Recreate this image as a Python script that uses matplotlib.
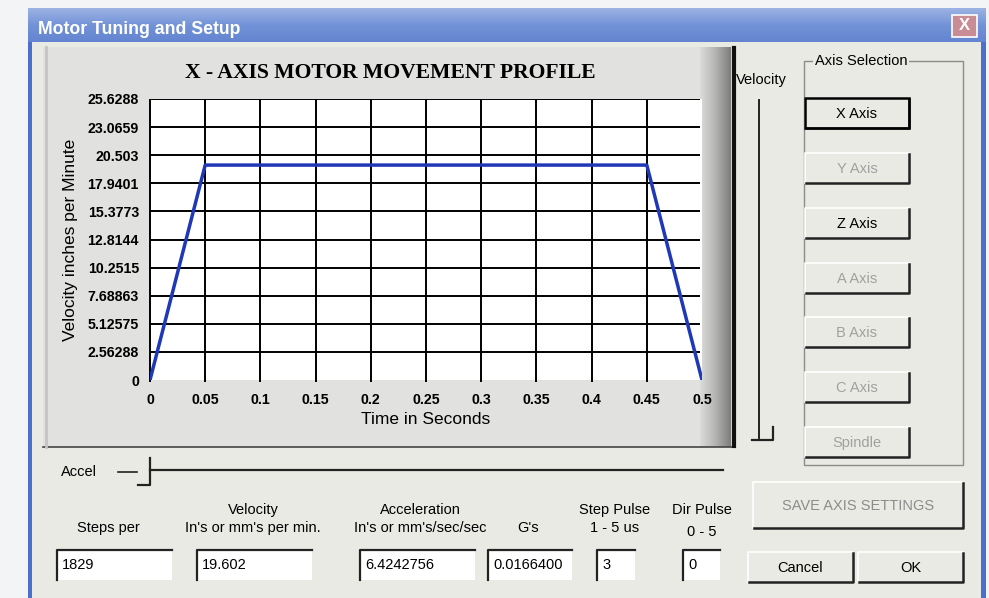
import numpy as np
import matplotlib.pyplot as plt
from matplotlib import font_manager
from matplotlib.patches import Rectangle
from matplotlib.lines import Line2D
from matplotlib.colors import LinearSegmentedColormap

W, H = 989, 598

# velocity profile (time in s, velocity in in/min)
time_s = [0, 0.05, 0.45, 0.5]
velocity = [0, 19.602, 19.602, 0]

x_ticks = [0, 0.05, 0.1, 0.15, 0.2, 0.25, 0.3, 0.35, 0.4, 0.45, 0.5]
x_labels = ['0', '0.05', '0.1', '0.15', '0.2', '0.25', '0.3', '0.35', '0.4', '0.45', '0.5']
y_labels = ['0', '2.56288', '5.12575', '7.68863', '10.2515', '12.8144',
            '15.3773', '17.9401', '20.503', '23.0659', '25.6288']

axis_buttons = ['X Axis', 'Y Axis', 'Z Axis', 'A Axis', 'B Axis', 'C Axis', 'Spindle']
axis_enabled = [True, False, True, False, False, False, False]

field_top = ['', 'Velocity', 'Acceleration', '', 'Step Pulse', 'Dir Pulse']
field_bottom = ['Steps per', "In's or mm's per min.", "In's or mm's/sec/sec", "G's", '1 - 5 us', '0 - 5']
field_values = ['1829', '19.602', '6.4242756', '0.0166400', '3', '0']

installed = {f.name for f in font_manager.fontManager.ttflist}
UI = 'Liberation Sans Narrow' if 'Liberation Sans Narrow' in installed else 'Liberation Sans'
UI_SIZE = 12 if UI == 'Liberation Sans Narrow' else 10.5
plt.rcParams['font.family'] = ['Liberation Sans', 'DejaVu Sans']

BODY = '#eaeae4'
DARK = '#222222'

fig = plt.figure(figsize=(W / 100, H / 100), dpi=100)
fig.patch.set_facecolor('#f3f4f6')


def fx(x):
    return x / W


def fy(y):
    return 1 - y / H


def rect(x0, y0, x1, y1, z=0.5, **kw):
    fig.add_artist(Rectangle((fx(x0), fy(y1)), (x1 - x0) / W, (y1 - y0) / H,
                             transform=fig.transFigure, zorder=z, **kw))


def line(xs, ys, z=4, **kw):
    fig.add_artist(Line2D([fx(x) for x in xs], [fy(y) for y in ys],
                          transform=fig.transFigure, zorder=z, **kw))


def text(x, y, s, **kw):
    kw.setdefault('ha', 'center')
    kw.setdefault('va', 'center')
    kw.setdefault('zorder', 5)
    fig.text(fx(x), fy(y), s, **kw)


def gradient(x0, y0, x1, y1, colors, vertical=False, z=0.6):
    g = fig.add_axes([fx(x0), fy(y1), (x1 - x0) / W, (y1 - y0) / H])
    cmap = LinearSegmentedColormap.from_list('g', colors)
    arr = np.linspace(0, 1, 256).reshape(-1, 1) if vertical else np.linspace(0, 1, 256).reshape(1, -1)
    g.imshow(arr, cmap=cmap, aspect='auto', extent=[0, 1, 0, 1] if not vertical else [0, 1, 1, 0])
    g.axis('off')
    g.set_zorder(z)


def button(x0, y0, x1, y1, label, color='black', focused=False):
    rect(x0, y0, x1, y1, z=0.8, facecolor=BODY, edgecolor='none')
    line([x0, x0, x1], [y1, y0, y0], color='white', lw=1.2)
    line([x0 + 1, x1, x1], [y1, y1, y0 + 1], color=DARK, lw=1.8)
    if focused:
        rect(x0, y0, x1, y1, z=4, facecolor='none', edgecolor='black', lw=1.8)
    text((x0 + x1) / 2, (y0 + y1) / 2 + 1, label, color=color,
         family=UI, size=UI_SIZE)


def field(x0, y0, x1, y1, value):
    rect(x0, y0, x1, y1, z=0.8, facecolor='white', edgecolor='none')
    line([x0, x0, x1], [y1, y0, y0], color=DARK, lw=1.6)
    text(x0 + 5, (y0 + y1) / 2, value, ha='left', family=UI, size=UI_SIZE)


# dialog frame
rect(28, 8, 986, 598, z=0.1, facecolor=BODY, edgecolor='none')
gradient(28, 8, 986, 42, ['#9db3e4', '#7393d8', '#6384d0'], vertical=True, z=0.3)
rect(28, 42, 32, 598, z=0.4, facecolor='#4a6fcf', edgecolor='none')
rect(981, 42, 986, 598, z=0.4, facecolor='#4a6fcf', edgecolor='none')
text(38, 29, 'Motor Tuning and Setup', ha='left', color='white', weight='bold',
     family=UI, size=UI_SIZE + 2.2)
rect(952, 15, 977, 37, z=4, facecolor='#c98c95', edgecolor='white', lw=1.2)
text(964.5, 26, 'X', color='white', weight='bold', size=12)

# chart panel
rect(43, 47, 733, 447, z=0.3, facecolor='#e1e1df', edgecolor='none')
gradient(700, 47, 731, 447, ['#dcdcda', '#b4b4b2', '#7c7c7a'], z=0.5)
line([43, 733], [447, 447], color='#444444', lw=1.2)
line([46, 46], [47, 447], color='#c4c4c2', lw=2)
line([734, 734], [48, 446], color='#111111', lw=3)

ax = fig.add_axes([fx(150), fy(380), (702 - 150) / W, (380 - 99) / H])
ax.set_zorder(2)
y_ticks = [float(s) for s in y_labels]
ax.set_xlim(x_ticks[0], x_ticks[-1])
ax.set_ylim(y_ticks[0], y_ticks[-1])
ax.set_facecolor('white')
ax.hlines(y_ticks[1:], x_ticks[0], x_ticks[-1] * 0.996, color='black', lw=1.4)
ax.vlines(x_ticks[:-1], -0.2, y_ticks[-1], color='black', lw=1.4, clip_on=False)
ax.plot(time_s, velocity, color='#1f38b8', lw=2.5, solid_capstyle='round')
for s in ax.spines.values():
    s.set_visible(False)
ax.set_xticks(x_ticks, x_labels)
ax.set_yticks(y_ticks, y_labels)
ax.tick_params(length=0, labelsize=10.2)
ax.tick_params(axis='y', pad=8)
ax.tick_params(axis='x', pad=9)
for t in ax.get_xticklabels() + ax.get_yticklabels():
    t.set_fontweight('bold')
ax.set_xlabel('Time in Seconds', fontsize=12.5, labelpad=4)

text(390, 73, 'X - AXIS MOTOR MOVEMENT PROFILE', family='Liberation Serif',
     weight='bold', size=15.6)
text(71, 240, 'Velocity inches per Minute', rotation=90, size=12.5)

# velocity slider
text(761, 80, 'Velocity', family=UI, size=UI_SIZE)
line([759, 759], [100, 438], color=DARK, lw=1.4)
rect(752, 427, 773, 440, z=3, facecolor=BODY, edgecolor='none')
line([752, 773, 773], [440, 440, 427], color=DARK, lw=1.6)

# axis selection group
rect(804, 61, 963, 465, z=0.6, facecolor='none', edgecolor='#8c8c8a', lw=1)
text(861, 61, 'Axis Selection', family=UI, size=UI_SIZE,
     bbox=dict(facecolor=BODY, edgecolor='none', pad=1))
btn_top = [98, 153, 208, 263, 317, 372, 427]
for lab, on, y0 in zip(axis_buttons, axis_enabled, btn_top):
    button(805, y0, 909, y0 + 30, lab, color='black' if on else '#a0a0a0',
           focused=(lab == 'X Axis'))

# accel slider
text(79, 472, 'Accel', family=UI, size=UI_SIZE)
line([118, 137], [472, 472], color=DARK, lw=1.2)
line([150, 723], [470, 470], color=DARK, lw=1.6)
rect(138, 458, 150, 485, z=3, facecolor=BODY, edgecolor='none')
line([138, 150, 150], [485, 485, 458], color=DARK, lw=1.6)

# numeric fields
top_x = [108, 253, 420, 528, 615, 702]
box_x = [(57, 172), (197, 312), (360, 475), (488, 572), (597, 635), (683, 720)]
for tt, bt, val, cx, (b0, b1) in zip(field_top, field_bottom, field_values, top_x, box_x):
    if tt:
        text(cx, 510, tt, family=UI, size=UI_SIZE)
    text(cx, 532 if bt == '0 - 5' else 528, bt, family=UI, size=UI_SIZE)
    field(b0, 550, b1, 580, val)

button(753, 482, 963, 528, 'SAVE AXIS SETTINGS', color='#8c8c8c')
button(748, 552, 853, 582, 'Cancel')
button(858, 552, 963, 582, 'OK')

fig.savefig('out.png', dpi=100)
